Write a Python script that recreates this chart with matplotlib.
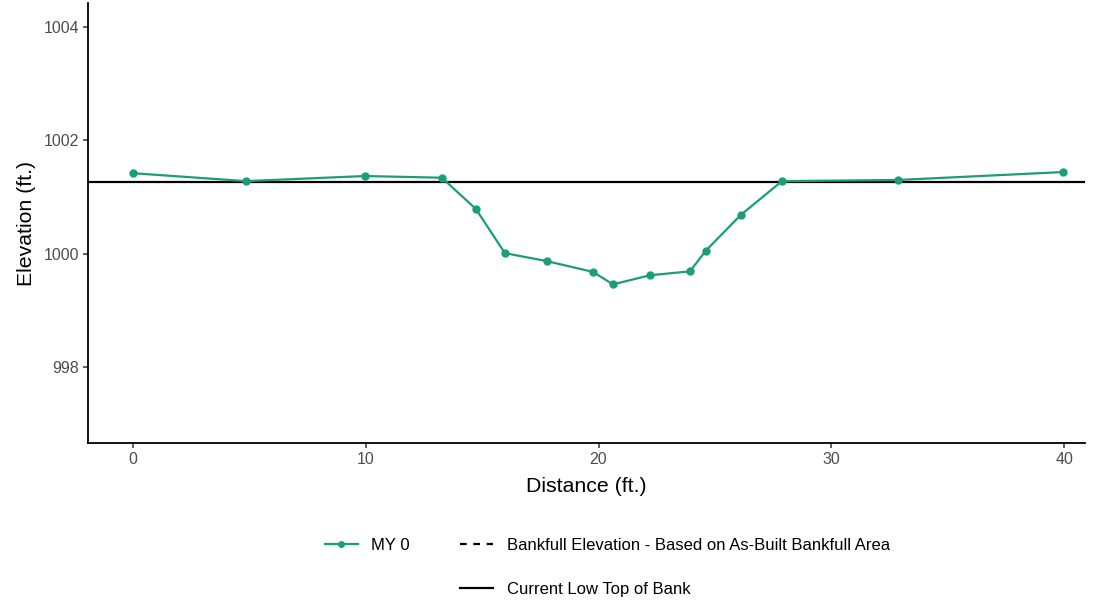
import matplotlib
matplotlib.use("Agg")
import matplotlib.pyplot as plt
from matplotlib.lines import Line2D

plt.rcParams['font.family'] = ['Liberation Sans', 'DejaVu Sans']

distance = [0, 4.85, 9.97, 13.27, 14.73, 15.98, 17.78, 19.76, 20.62, 22.2, 23.93, 24.6, 26.1, 27.88, 32.86, 39.95]
elevation = [1001.42, 1001.28, 1001.37, 1001.34, 1000.79, 1000.01, 999.87, 999.68, 999.46, 999.62, 999.69, 1000.05, 1000.68, 1001.28, 1001.30, 1001.44]
low_top_of_bank = 1001.26
x_ticks = [0, 10, 20, 30, 40]
y_ticks = [998, 1000, 1002, 1004]

teal = '#1b9e77'
fig = plt.figure(figsize=(11.14, 6.03), dpi=100)
ax = fig.add_axes([0.079, 0.265, 0.895, 0.730])

ax.axhline(low_top_of_bank, color='black', lw=1.6, zorder=2)
ax.plot(distance, elevation, color=teal, lw=1.6, marker='o', ms=5, zorder=3)

ax.set_xlim(-1.93, 40.9)
ax.set_ylim(996.66, 1004.42)
ax.set_xticks(x_ticks)
ax.set_yticks(y_ticks)
for s in ['top', 'right']:
    ax.spines[s].set_visible(False)
for s in ['left', 'bottom']:
    ax.spines[s].set_linewidth(1.3)
ax.tick_params(axis='both', labelsize=11.5, labelcolor='#4d4d4d', length=3.5, width=1.1, color='#333333', pad=3)
ax.set_xlabel('Distance (ft.)', fontsize=15.3, labelpad=7)
ax.set_ylabel('Elevation (ft.)', fontsize=15.3, labelpad=5)

handles = [
    Line2D([], [], color=teal, lw=1.6, marker='o', ms=4),
    Line2D([], [], color='none'),
    Line2D([], [], color='black', lw=1.6, ls=(0, (3, 3))),
    Line2D([], [], color='black', lw=1.6),
]
labels = ['MY 0', '', 'Bankfull Elevation - Based on As-Built Bankfull Area', 'Current Low Top of Bank']
fig.legend(handles, labels, ncol=2, loc='center', bbox_to_anchor=(0.545, 0.059),
           frameon=False, fontsize=12, handlelength=2.0, columnspacing=3.0,
           labelspacing=1.75, handletextpad=0.8)

fig.savefig('out.png', dpi=100)
